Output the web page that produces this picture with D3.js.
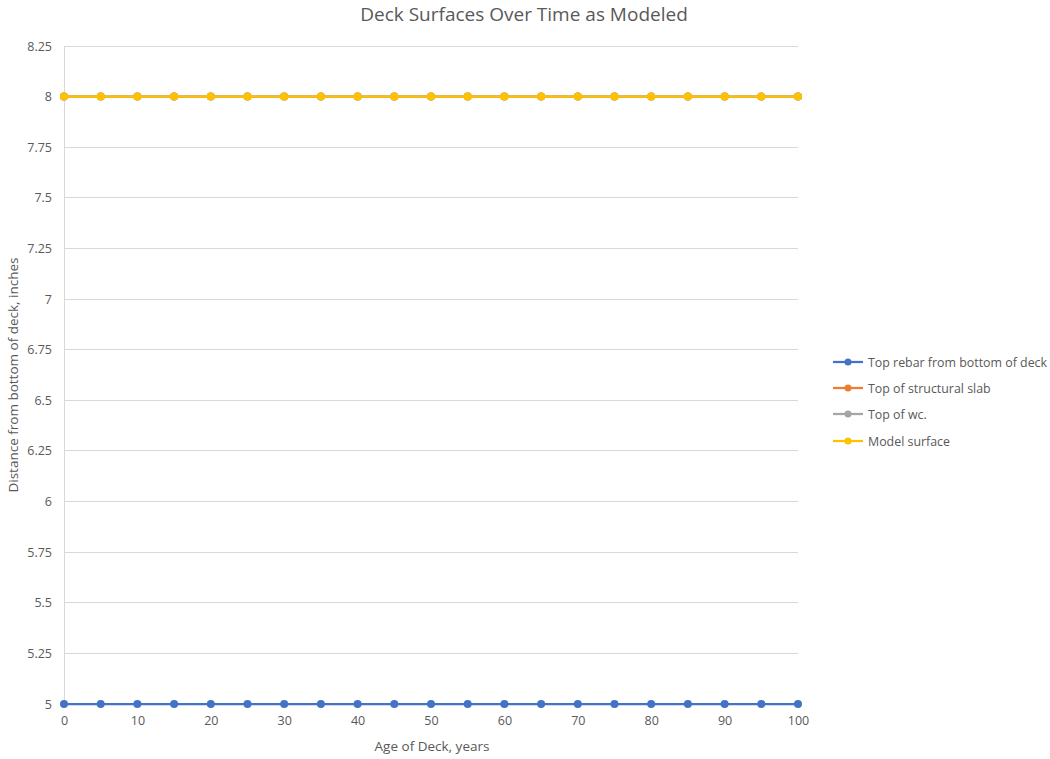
<!DOCTYPE html>
<html>
<head>
<meta charset="utf-8">
<script src="https://cdn.jsdelivr.net/npm/d3@7"></script>
<style>
  body { margin: 0; background: #fff; }
  svg { font-family: "Open Sans", "Liberation Sans", sans-serif; }
</style>
</head>
<body>
<svg id="chart" width="1050" height="759"></svg>
<script>
// Deck age in years, sampled every 5 years
const ages = [0, 5, 10, 15, 20, 25, 30, 35, 40, 45, 50, 55, 60, 65, 70, 75, 80, 85, 90, 95, 100];

// Distance from bottom of deck (inches) for each modeled surface
const topRebar       = [5, 5, 5, 5, 5, 5, 5, 5, 5, 5, 5, 5, 5, 5, 5, 5, 5, 5, 5, 5, 5];
const structuralSlab = [8, 8, 8, 8, 8, 8, 8, 8, 8, 8, 8, 8, 8, 8, 8, 8, 8, 8, 8, 8, 8];
const topWc          = [8, 8, 8, 8, 8, 8, 8, 8, 8, 8, 8, 8, 8, 8, 8, 8, 8, 8, 8, 8, 8];
const modelSurface   = [8, 8, 8, 8, 8, 8, 8, 8, 8, 8, 8, 8, 8, 8, 8, 8, 8, 8, 8, 8, 8];

const seriesNames = ["Top rebar from bottom of deck", "Top of structural slab", "Top of wc.", "Model surface"];
const seriesColors = ["#4472C4", "#ED7D31", "#A5A5A5", "#FFC000"];
const seriesValues = [topRebar, structuralSlab, topWc, modelSurface];

const xTicks = [0, 10, 20, 30, 40, 50, 60, 70, 80, 90, 100];
const yTicks = [5, 5.25, 5.5, 5.75, 6, 6.25, 6.5, 6.75, 7, 7.25, 7.5, 7.75, 8, 8.25];

const svg = d3.select("#chart");
const plot = { left: 64, right: 798, top: 46, bottom: 704 };

const x = d3.scaleLinear().domain([0, 100]).range([plot.left, plot.right]);
const y = d3.scaleLinear().domain([5, 8.25]).range([plot.bottom, plot.top]);

// Title
svg.append("text")
  .attr("x", 524).attr("y", 21)
  .attr("text-anchor", "middle")
  .attr("font-size", 19)
  .attr("fill", "#595959")
  .text("Deck Surfaces Over Time as Modeled");

// Horizontal gridlines
svg.append("g")
  .selectAll("line")
  .data(yTicks)
  .join("line")
  .attr("x1", plot.left).attr("x2", plot.right)
  .attr("y1", d => y(d)).attr("y2", d => y(d))
  .attr("stroke", "#D9D9D9").attr("stroke-width", 1)
  .attr("shape-rendering", "crispEdges");

// Y axis
const yAxis = svg.append("g")
  .attr("transform", `translate(${plot.left},0)`)
  .call(d3.axisLeft(y).tickValues(yTicks).tickSize(0).tickPadding(12).tickFormat(d3.format("")));
yAxis.select(".domain").attr("stroke", "#D9D9D9").attr("shape-rendering", "crispEdges");
yAxis.selectAll("text").attr("font-size", 12.5).attr("fill", "#595959")
  .attr("font-family", "\"Open Sans\", \"Liberation Sans\", sans-serif");

// X axis
const xAxis = svg.append("g")
  .attr("transform", `translate(0,${plot.bottom})`)
  .call(d3.axisBottom(x).tickValues(xTicks).tickSize(0).tickPadding(12).tickFormat(d3.format("")));
xAxis.select(".domain").attr("stroke", "#D9D9D9").attr("shape-rendering", "crispEdges");
xAxis.selectAll("text").attr("font-size", 12.5).attr("fill", "#595959")
  .attr("font-family", "\"Open Sans\", \"Liberation Sans\", sans-serif");

// Axis titles
svg.append("text")
  .attr("x", 432).attr("y", 751)
  .attr("text-anchor", "middle")
  .attr("font-size", 13.5).attr("fill", "#595959")
  .text("Age of Deck, years");

svg.append("text")
  .attr("transform", `translate(18,${(plot.top + plot.bottom) / 2}) rotate(-90)`)
  .attr("text-anchor", "middle")
  .attr("font-size", 13.5).attr("fill", "#595959")
  .text("Distance from bottom of deck, inches");

// Series lines and markers
const line = d3.line().x((d, i) => x(ages[i])).y(d => y(d));
seriesValues.forEach((vals, s) => {
  const g = svg.append("g");
  g.append("path")
    .datum(vals)
    .attr("d", line)
    .attr("fill", "none")
    .attr("stroke", seriesColors[s])
    .attr("stroke-width", 2.25);
  g.selectAll("circle")
    .data(vals)
    .join("circle")
    .attr("cx", (d, i) => x(ages[i]))
    .attr("cy", d => y(d))
    .attr("r", 4)
    .attr("fill", seriesColors[s]);
});

// Legend
const legend = svg.append("g");
const legendY = [362, 388, 414, 441];
seriesNames.forEach((name, i) => {
  const row = legend.append("g").attr("transform", `translate(833,${legendY[i]})`);
  row.append("line").attr("x1", 0).attr("x2", 30).attr("y1", 0).attr("y2", 0)
    .attr("stroke", seriesColors[i]).attr("stroke-width", 2.25);
  row.append("circle").attr("cx", 15).attr("cy", 0).attr("r", 3.5).attr("fill", seriesColors[i]);
  row.append("text").attr("x", 35).attr("y", 4.5)
    .attr("font-size", 12.4).attr("fill", "#595959")
    .text(name);
});
</script>
</body>
</html>
